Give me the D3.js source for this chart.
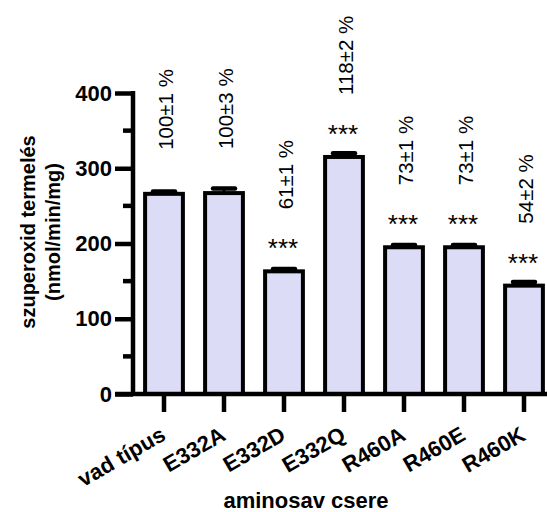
<!DOCTYPE html>
<html>
<head>
<meta charset="utf-8">
<script src="https://cdn.jsdelivr.net/npm/d3@7"></script>
<style>
  html, body { margin: 0; padding: 0; background: #fff; }
  svg { display: block; font-family: "Liberation Sans", Arial, sans-serif; }
</style>
</head>
<body>
<div id="chart"></div>
<script>
// szuperoxid termelés — bar chart with error caps and rotated % labels

const categories = ["vad típus", "E332A", "E332D", "E332Q", "R460A", "R460E", "R460K"];
const values = [266, 267, 163, 315, 195, 195, 144];
const errors = [3, 6, 3, 5, 3, 3, 5];
const pctLabels = ["100±1 %", "100±3 %", "61±1 %", "118±2 %", "73±1 %", "73±1 %", "54±2 %"];
const stars = ["", "", "***", "***", "***", "***", "***"];
const yTicks = [0, 100, 200, 300, 400];
const yMinorTicks = [50, 150, 250, 350];

const W = 547, H = 512;
const svg = d3.select("#chart").append("svg")
  .attr("width", W).attr("height", H);

const x = d3.scaleBand().domain(categories).range([134, 554])
  .paddingInner(0.37).paddingOuter(0.185);
const y = d3.scaleLinear().domain([0, 400]).range([394, 93]);

const AX = 133, AXW = 4.5;

// bars
svg.append("g").selectAll("rect")
  .data(values)
  .enter().append("rect")
  .attr("x", (d, i) => x(categories[i]))
  .attr("y", d => y(d))
  .attr("width", x.bandwidth())
  .attr("height", d => y(0) - y(d))
  .attr("fill", "#dcdcf7")
  .attr("stroke", "#000")
  .attr("stroke-width", 4);

// error bars (upper only)
const eb = svg.append("g").attr("stroke", "#000");
values.forEach((v, i) => {
  const cx = x(categories[i]) + x.bandwidth() / 2;
  eb.append("line")
    .attr("x1", cx).attr("x2", cx)
    .attr("y1", y(v)).attr("y2", y(v + errors[i]))
    .attr("stroke-width", 3);
  eb.append("line")
    .attr("x1", cx - 11).attr("x2", cx + 11)
    .attr("y1", y(v + errors[i])).attr("y2", y(v + errors[i]))
    .attr("stroke-width", 4.5)
    .attr("stroke-linecap", "round");
});

// y axis
const yAxis = svg.append("g")
  .attr("transform", `translate(${AX},0)`)
  .call(d3.axisLeft(y).tickValues(yTicks).tickSize(18).tickSizeOuter(0).tickPadding(3));
yAxis.select(".domain").remove();
yAxis.selectAll(".tick line").attr("stroke-width", AXW);
yAxis.selectAll(".tick text")
  .attr("font-size", 22).attr("font-weight", "bold")
  .attr("font-family", "Liberation Sans, Arial, sans-serif")
  .attr("fill", "#000");

svg.append("g").selectAll("line")
  .data(yMinorTicks)
  .enter().append("line")
  .attr("x1", AX - 10).attr("x2", AX)
  .attr("y1", d => y(d)).attr("y2", d => y(d))
  .attr("stroke", "#000").attr("stroke-width", AXW);

svg.append("line")
  .attr("x1", AX).attr("x2", AX)
  .attr("y1", y(400) - 2).attr("y2", y(0))
  .attr("stroke", "#000").attr("stroke-width", AXW);

// x axis
const xAxis = svg.append("g")
  .attr("transform", `translate(0,${y(0)})`)
  .call(d3.axisBottom(x).tickSize(18).tickSizeOuter(0));
xAxis.select(".domain").remove();
xAxis.selectAll(".tick line").attr("stroke-width", AXW);
xAxis.selectAll(".tick text")
  .attr("font-size", 22).attr("font-weight", "bold")
  .attr("font-family", "Liberation Sans, Arial, sans-serif")
  .attr("fill", "#000")
  .attr("text-anchor", "end")
  .attr("dy", null)
  .attr("y", 0)
  .attr("transform", "translate(3,45) rotate(-30)");

svg.append("line")
  .attr("x1", AX - 18).attr("x2", 550)
  .attr("y1", y(0)).attr("y2", y(0))
  .attr("stroke", "#000").attr("stroke-width", AXW);

// significance stars
svg.append("g").selectAll("text")
  .data(values)
  .enter().append("text")
  .attr("x", (d, i) => x(categories[i]) + x.bandwidth() / 2 - 1)
  .attr("y", d => y(d) - 14)
  .attr("text-anchor", "middle")
  .attr("font-size", 26)
  .attr("fill", "#000")
  .text((d, i) => stars[i]);

// percentage labels (rotated)
svg.append("g").selectAll("text")
  .data(values)
  .enter().append("text")
  .attr("transform", (d, i) => {
    const cx = x(categories[i]) + x.bandwidth() / 2 + 9;
    const yy = y(d) - (stars[i] ? 62 : 44);
    return `translate(${cx},${yy}) rotate(-90)`;
  })
  .attr("font-size", 20.5)
  .attr("fill", "#000")
  .text((d, i) => pctLabels[i]);

// axis titles
const yTitle = svg.append("text")
  .attr("transform", "translate(0,232) rotate(-90)")
  .attr("text-anchor", "middle")
  .attr("font-size", 20)
  .attr("font-weight", "bold")
  .attr("fill", "#000");
yTitle.append("tspan").attr("x", 0).attr("y", 35).text("szuperoxid termelés");
yTitle.append("tspan").attr("x", 0).attr("y", 60).text("(nmol/min/mg)");

svg.append("text")
  .attr("x", 306).attr("y", 508)
  .attr("text-anchor", "middle")
  .attr("font-size", 22)
  .attr("font-weight", "bold")
  .attr("fill", "#000")
  .text("aminosav csere");
</script>
</body>
</html>
